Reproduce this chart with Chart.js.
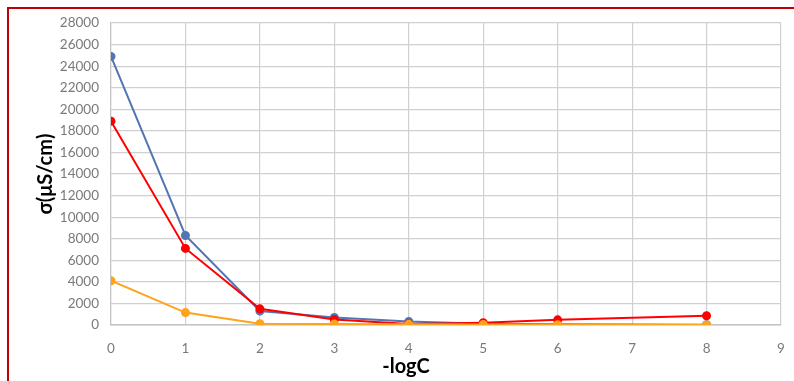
<!DOCTYPE html>
<html lang="en">
<head>
    <meta charset="UTF-8">
    <title>Conductivity vs -logC</title>
    <style>
        body {
            margin: 0;
            background: white;
            overflow: hidden;
        }
        .wrap {
            position: absolute;
            left: 0;
            top: 0;
            width: 794px;
            height: 381px;
        }
        .frame {
            position: absolute;
            left: 7px;
            top: 7px;
            width: 820px;
            height: 400px;
            border-left: 2px solid #c00000;
            border-top: 2px solid #c00000;
            pointer-events: none;
        }
    </style>
    <script src="https://cdn.jsdelivr.net/npm/chart.js"></script>
</head>
<body>
    <div class="wrap"><canvas id="chart" width="794" height="381"></canvas></div>
    <div class="frame"></div>
    <script>
        // -logC positions
        var xValues = [0, 1, 2, 3, 4, 5, 6, 8];
        // conductivity, µS/cm
        var blueSeries = [24900, 8300, 1300, 700, 330, 120, 60, 20];
        var redSeries = [18900, 7100, 1500, 520, 100, 220, 480, 860];
        var orangeSeries = [4100, 1150, 120, 100, 60, 50, 30, 10];

        var xTicks = [0, 1, 2, 3, 4, 5, 6, 7, 8, 9];
        var yMax = 28000;
        var yStep = 2000;

        function toPoints(vals) {
            return vals.map(function (v, i) { return { x: xValues[i], y: v }; });
        }

        function series(vals, color) {
            return {
                data: toPoints(vals),
                showLine: true,
                borderColor: color,
                backgroundColor: color,
                borderWidth: 2,
                pointRadius: 3.5,
                pointHoverRadius: 3.5
            };
        }

        var tickFont = { family: 'Lato', size: 13.5 };
        var titleFont = { family: 'Lato', size: 20, weight: 'bold' };

        new Chart(document.getElementById('chart'), {
            type: 'scatter',
            data: {
                datasets: [
                    series(orangeSeries, '#ffa31a'),
                    series(redSeries, '#ff0000'),
                    series(blueSeries, '#5475b3')
                ]
            },
            options: {
                responsive: false,
                animation: false,
                layout: { padding: { left: 31, right: 13, top: 23, bottom: 0 } },
                plugins: {
                    legend: { display: false },
                    tooltip: { enabled: false },
                    title: {
                        display: true,
                        position: 'bottom',
                        text: '-logC',
                        color: '#000',
                        font: titleFont,
                        padding: { top: 0, bottom: 2 }
                    }
                },
                scales: {
                    x: {
                        type: 'linear',
                        min: 0,
                        max: 9,
                        afterBuildTicks: function (s) {
                            s.ticks = xTicks.map(function (v) { return { value: v }; });
                        },
                        afterFit: function (s) {
                            s.height = 30;
                            s.paddingLeft = 0;
                            s.paddingRight = 0;
                        },
                        grid: { color: '#d0d0d0', lineWidth: 1.2, drawTicks: false },
                        border: { color: '#c4c4c4', width: 1.5 },
                        ticks: {
                            color: '#7a7a7a', font: tickFont, padding: 16,
                            callback: function (v) { return String(v); }
                        }
                    },
                    y: {
                        min: 0,
                        max: yMax,
                        afterFit: function (s) {
                            s.width = 80;
                            s.paddingTop = 0;
                            s.paddingBottom = 0;
                        },
                        grid: { color: '#d0d0d0', lineWidth: 1.2, drawTicks: false },
                        border: { color: '#c4c4c4', width: 1.2 },
                        ticks: {
                            color: '#7a7a7a', font: tickFont, padding: 12, stepSize: yStep,
                            callback: function (v) { return String(v); }
                        },
                        title: {
                            display: true,
                            text: 'σ(μS/cm)',
                            color: '#000',
                            font: titleFont,
                            padding: { top: 3, bottom: 0 }
                        }
                    }
                }
            }
        });
    </script>
</body>
</html>
